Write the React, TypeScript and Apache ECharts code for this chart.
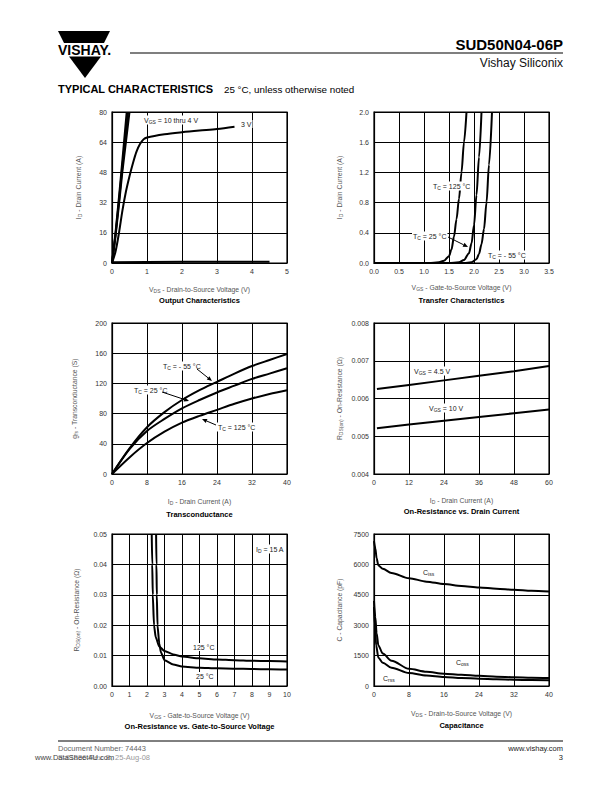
import React, { useEffect, useRef } from 'react';
import * as echarts from 'echarts';

const FONT = '"Liberation Sans", Arial, Helvetica, sans-serif';

// ---------- Chart 1: Output Characteristics ----------
const outVgs10: number[][] = [[0, 0], [0.1, 16], [0.2, 35], [0.3, 55], [0.42, 80]];
const outVgs6: number[][] = [[0, 0], [0.1, 15], [0.2, 33], [0.3, 52], [0.46, 80]];
const outVgs4: number[][] = [[0, 0], [0.1, 14], [0.2, 31], [0.3, 49], [0.5, 80]];
const outVgs3: number[][] = [[0, 0], [0.1, 6], [0.2, 16], [0.3, 28], [0.4, 38], [0.5, 46], [0.6, 53], [0.7, 59], [0.8, 63], [0.9, 65.5], [1, 66.5], [1.5, 68.2], [2, 69.3], [2.5, 70.2], [3, 71], [3.5, 72.2]];
const outVgs2: number[][] = [[0, 0.4], [2, 0.6], [4.5, 0.6]];

// ---------- Chart 2: Transfer Characteristics ----------
const tr125: number[][] = [[0, 0], [1.1, 0], [1.3, 0.01], [1.4, 0.03], [1.5, 0.09], [1.55, 0.18], [1.6, 0.35], [1.65, 0.58], [1.7, 0.85], [1.75, 1.2], [1.8, 1.6], [1.85, 2.0]];
const tr25: number[][] = [[0, 0], [1.5, 0], [1.7, 0.01], [1.8, 0.04], [1.9, 0.13], [1.95, 0.26], [2.0, 0.5], [2.05, 0.9], [2.1, 1.4], [2.15, 2.0]];
const trM55: number[][] = [[0, 0], [1.8, 0], [1.95, 0.01], [2.05, 0.05], [2.1, 0.12], [2.15, 0.25], [2.2, 0.45], [2.25, 0.8], [2.3, 1.3], [2.36, 2.0]];

// ---------- Chart 3: Transconductance ----------
const gfsM55: number[][] = [[0, 0], [4, 34], [8, 62], [12, 82], [16, 98], [20, 111], [24, 122], [28, 133], [32, 143], [36, 151], [40, 159]];
const gfs25: number[][] = [[0, 0], [4, 33], [8, 57], [12, 73], [16, 87], [20, 98], [24, 108], [28, 117], [32, 126], [36, 133], [40, 140]];
const gfs125: number[][] = [[0, 0], [4, 22], [8, 41], [12, 56], [16, 68], [20, 77], [24, 85], [28, 93], [32, 100], [36, 106], [40, 111]];

// ---------- Chart 4: On-Resistance vs. Drain Current ----------
const rdsVgs45: number[][] = [[1, 0.00625], [12, 0.00636], [24, 0.00648], [36, 0.0066], [48, 0.00672], [60, 0.00686]];
const rdsVgs10: number[][] = [[1, 0.00521], [12, 0.00531], [24, 0.00541], [36, 0.00551], [48, 0.00561], [60, 0.00571]];

// ---------- Chart 5: On-Resistance vs. Gate-to-Source Voltage ----------
const rvg125: number[][] = [[2.27, 0.05], [2.3, 0.04], [2.33, 0.03], [2.4, 0.02], [2.5, 0.016], [2.7, 0.013], [3, 0.0115], [3.5, 0.0104], [4, 0.0097], [5, 0.0091], [6, 0.0087], [7, 0.0085], [8, 0.0083], [9, 0.0082], [10, 0.0081]];
const rvg25: number[][] = [[2.52, 0.05], [2.54, 0.04], [2.56, 0.03], [2.6, 0.02], [2.7, 0.014], [2.8, 0.011], [3, 0.0085], [3.5, 0.0071], [4, 0.0064], [5, 0.006], [6, 0.0058], [7, 0.0057], [8, 0.0056], [9, 0.0055], [10, 0.0054]];

// ---------- Chart 6: Capacitance ----------
const capCiss: number[][] = [[0, 7150], [0.3, 6800], [0.6, 6300], [1, 5950], [2, 5780], [4, 5580], [8, 5320], [12, 5150], [16, 5030], [20, 4940], [24, 4860], [28, 4800], [32, 4750], [36, 4700], [40, 4660]];
const capCoss: number[][] = [[0, 4200], [0.3, 3400], [0.6, 2600], [1, 2000], [2, 1600], [4, 1250], [8, 850], [12, 700], [16, 610], [20, 550], [24, 500], [28, 460], [32, 430], [36, 410], [40, 390]];
const capCrss: number[][] = [[0, 3900], [0.2, 3000], [0.5, 2000], [1, 1400], [2, 1150], [4, 900], [8, 640], [12, 520], [16, 450], [20, 400], [24, 360], [28, 330], [32, 310], [36, 290], [40, 280]];

// Axis ranges
const xRanges = [[0, 5, 1], [0, 3.5, 0.5], [0, 40, 8], [0, 60, 12], [0, 10, 1], [0, 40, 8]];
const yRanges = [[0, 80, 16], [0, 2, 0.4], [0, 200, 40], [0.004, 0.008, 0.001], [0, 0.05, 0.01], [0, 7500, 1500]];
const xDecimals = [0, 1, 0, 0, 0, 0];
const yDecimals = [0, 1, 0, 3, 2, 0];

const xNames = [
  '{n|V}{s|DS}{n| - Drain-to-Source Voltage (V)}',
  '{n|V}{s|GS}{n| - Gate-to-Source Voltage (V)}',
  '{n|I}{s|D}{n| - Drain Current (A)}',
  '{n|I}{s|D}{n| - Drain Current (A)}',
  '{n|V}{s|GS}{n| - Gate-to-Source Voltage (V)}',
  '{n|V}{s|DS}{n| - Drain-to-Source Voltage (V)}',
];
const yNames = [
  '{n|I}{s|D}{n| - Drain Current (A)}',
  '{n|I}{s|D}{n| - Drain Current (A)}',
  '{n|g}{s|fs}{n| - Transconductance (S)}',
  '{n|R}{s|DS(on)}{n| - On-Resistance (Ω)}',
  '{n|R}{s|DS(on)}{n| - On-Resistance (Ω)}',
  '{n|C - Capacitance (pF)}',
];
const titles = [
  'Output Characteristics',
  'Transfer Characteristics',
  'Transconductance',
  'On-Resistance vs. Drain Current',
  'On-Resistance vs. Gate-to-Source Voltage',
  'Capacitance',
];

const GRIDS = [
  { left: 112, top: 112, width: 175, height: 151 },
  { left: 374, top: 112, width: 175, height: 151 },
  { left: 112, top: 323, width: 175, height: 151 },
  { left: 374, top: 323, width: 175, height: 151 },
  { left: 112, top: 534, width: 175, height: 152 },
  { left: 374, top: 534, width: 175, height: 152 },
];
const Y_NAME_GAP = [30, 31, 34, 31, 32, 31];
const X_NAME_GAP = [22, 20, 23, 22, 25, 23];
const TITLE_Y = [300, 300, 514, 511, 726, 725];

const axisRich = (color: string) => ({
  n: { fontSize: 6.8, fontFamily: FONT, color },
  s: { fontSize: 5, fontFamily: FONT, color, padding: [3, 0, 0, 0] },
});

function txt(x: number, y: number, text: string, opts: any = {}) {
  const color = opts.color || '#222';
  return {
    type: 'text',
    x,
    y,
    silent: true,
    z: opts.z || 10,
    style: {
      text,
      fill: color,
      font: opts.font || `7px ${FONT}`,
      align: opts.align || 'left',
      verticalAlign: opts.valign || 'middle',
      rich: opts.rich,
      backgroundColor: opts.bg,
      padding: opts.bg ? [1, 1, 0, 1] : undefined,
    },
  };
}

function arrow(x1: number, y1: number, x2: number, y2: number) {
  const dx = x2 - x1;
  const dy = y2 - y1;
  const len = Math.sqrt(dx * dx + dy * dy);
  const ux = dx / len;
  const uy = dy / len;
  const hl = 5;
  const hw = 2.2;
  const bx = x2 - ux * hl;
  const by = y2 - uy * hl;
  return [
    { type: 'line', silent: true, z: 11, shape: { x1, y1, x2: bx, y2: by }, style: { stroke: '#000', lineWidth: 1 } },
    {
      type: 'polygon',
      silent: true,
      z: 11,
      shape: { points: [[x2, y2], [bx - uy * hw, by + ux * hw], [bx + uy * hw, by - ux * hw]] },
      style: { fill: '#000' },
    },
  ];
}

const annRich = {
  n: { fontSize: 7, fontFamily: FONT, color: '#222' },
  s: { fontSize: 5, fontFamily: FONT, color: '#222', padding: [3, 0, 0, 0] },
};
const ann = (x: number, y: number, t: string) => txt(x, y, t, { rich: annRich, bg: '#fff' });

export default function App() {
  const ref = useRef<HTMLDivElement>(null);
  useEffect(() => {
    if (!ref.current) return;
    const chart = echarts.init(ref.current, undefined, { renderer: 'svg' });

    const grid = GRIDS.map((g) => ({ ...g, show: true, borderColor: '#000', borderWidth: 1.2, containLabel: false }));

    const xAxis = xRanges.map((r, i) => ({
      type: 'value',
      gridIndex: i,
      min: r[0],
      max: r[1],
      interval: r[2],
      name: xNames[i],
      nameLocation: 'middle',
      nameGap: X_NAME_GAP[i],
      nameTextStyle: { rich: axisRich('#555') },
      axisLine: { show: true, lineStyle: { color: '#000', width: 1.2 } },
      axisTick: { show: false },
      splitLine: { show: true, lineStyle: { color: '#000', width: 1 } },
      axisLabel: {
        fontSize: 7,
        fontFamily: FONT,
        color: '#333',
        margin: 5,
        formatter: (v: number) => v.toFixed(xDecimals[i]),
      },
    }));

    const yAxis = yRanges.map((r, i) => ({
      type: 'value',
      gridIndex: i,
      min: r[0],
      max: r[1],
      interval: r[2],
      name: yNames[i],
      nameLocation: 'middle',
      nameRotate: 90,
      nameGap: Y_NAME_GAP[i],
      nameTextStyle: { rich: axisRich('#555') },
      axisLine: { show: true, lineStyle: { color: '#000', width: 1.2 } },
      axisTick: { show: false },
      splitLine: { show: true, lineStyle: { color: '#000', width: 1 } },
      axisLabel: {
        fontSize: 7,
        fontFamily: FONT,
        color: '#333',
        margin: 5,
        formatter: (v: number) => v.toFixed(yDecimals[i]),
      },
    }));

    const line = (idx: number, name: string, data: number[][], smooth: boolean | number = false, mono: string | null = null) => {
      const s: any = {
        type: 'line',
        name,
        xAxisIndex: idx,
        yAxisIndex: idx,
        data,
        symbol: 'none',
        showSymbol: false,
        smooth,
        clip: true,
        lineStyle: { color: '#000', width: 2 },
        z: 5,
      };
      if (mono) s.smoothMonotone = mono;
      return s;
    };

    const series = [
      line(0, 'VGS 10 V', outVgs10),
      line(0, 'VGS 6 V', outVgs6),
      line(0, 'VGS 4 V', outVgs4),
      line(0, 'VGS 3 V', outVgs3, 0.3),
      line(0, 'VGS 2 V', outVgs2),
      line(1, 'TC 125', tr125, 0.3, 'x'),
      line(1, 'TC 25', tr25, 0.3, 'x'),
      line(1, 'TC -55', trM55, 0.3, 'x'),
      line(2, 'TC -55', gfsM55, 0.3),
      line(2, 'TC 25', gfs25, 0.3),
      line(2, 'TC 125', gfs125, 0.3),
      line(3, 'VGS 4.5 V', rdsVgs45),
      line(3, 'VGS 10 V', rdsVgs10),
      line(4, '125 C', rvg125, 0.2, 'x'),
      line(4, '25 C', rvg25, 0.2, 'x'),
      line(5, 'Ciss', capCiss, 0.3, 'x'),
      line(5, 'Coss', capCoss, 0.3, 'x'),
      line(5, 'Crss', capCrss, 0.3, 'x'),
    ];

    const graphic: any[] = [
      // Logo
      { type: 'polygon', silent: true, shape: { points: [[58, 31], [110, 31], [104, 43], [64, 43]] }, style: { fill: '#000' } },
      { type: 'polygon', silent: true, shape: { points: [[69, 56.5], [101, 56.5], [85, 78]] }, style: { fill: '#000' } },
      txt(58, 50, 'VISHAY.', { font: `bold 14px ${FONT}`, color: '#000' }),
      // header
      { type: 'line', silent: true, shape: { x1: 130, y1: 53, x2: 563, y2: 53 }, style: { stroke: '#000', lineWidth: 1.2 } },
      txt(563, 44, 'SUD50N04-06P', { font: `bold 15px ${FONT}`, color: '#000', align: 'right' }),
      txt(563, 63, 'Vishay Siliconix', { font: `12px ${FONT}`, color: '#111', align: 'right' }),
      txt(58, 89, 'TYPICAL CHARACTERISTICS', { font: `bold 11px ${FONT}`, color: '#000' }),
      txt(224, 89, '25 °C, unless otherwise noted', { font: `9.8px ${FONT}`, color: '#000' }),
      // footer
      { type: 'line', silent: true, shape: { x1: 58, y1: 741, x2: 563, y2: 741 }, style: { stroke: '#000', lineWidth: 1 } },
      txt(58, 748, 'Document Number: 74443', { font: `7.5px ${FONT}`, color: '#666' }),
      txt(58, 757, 'S-81836-Rev. B, 25-Aug-08', { font: `7.5px ${FONT}`, color: '#999' }),
      txt(35, 757, 'www.DataSheet4U.com', { font: `7.5px ${FONT}`, color: '#444' }),
      txt(563, 748, 'www.vishay.com', { font: `7.5px ${FONT}`, color: '#222', align: 'right' }),
      txt(563, 757, '3', { font: `7.5px ${FONT}`, color: '#222', align: 'right' }),
    ];

    // chart titles
    GRIDS.forEach((g, i) => {
      graphic.push(txt(g.left + g.width / 2, TITLE_Y[i], titles[i], { font: `bold 7.5px ${FONT}`, color: '#000', align: 'center' }));
    });

    // annotations
    graphic.push(
      ann(143, 120, '{n|V}{s|GS}{n| = 10 thru 4 V}'),
      ann(240, 124, '{n|3 V}'),
      ann(432, 186, '{n|T}{s|C}{n| = 125 °C}'),
      ann(412, 236, '{n|T}{s|C}{n| = 25 °C}'),
      ...arrow(448, 237, 468, 247),
      ann(487, 255, '{n|T}{s|C}{n| = - 55 °C}'),
      ann(162, 366, '{n|T}{s|C}{n| = - 55 °C}'),
      ...arrow(197, 369, 212, 381),
      ann(133, 390, '{n|T}{s|C}{n| = 25 °C}'),
      ...arrow(162, 392, 189, 401),
      ann(217, 427, '{n|T}{s|C}{n| = 125 °C}'),
      ...arrow(216, 425, 202, 419),
      ann(413, 371, '{n|V}{s|GS}{n| = 4.5 V}'),
      ann(428, 408, '{n|V}{s|GS}{n| = 10 V}'),
      ann(255, 549, '{n|I}{s|D}{n| = 15 A}'),
      ann(192, 647, '{n|125 °C}'),
      ann(195, 676, '{n|25 °C}'),
      ann(422, 572, '{n|C}{s|iss}'),
      ann(455, 662, '{n|C}{s|oss}'),
      ann(382, 678, '{n|C}{s|rss}'),
    );

    chart.setOption({
      animation: false,
      backgroundColor: '#fff',
      grid,
      xAxis,
      yAxis,
      series,
      graphic,
    });
    return () => chart.dispose();
  }, []);

  return (
    <div
      ref={ref}
      style={{ position: 'absolute', left: 0, top: 0, width: 612, height: 792, background: '#fff' }}
    />
  );
}
